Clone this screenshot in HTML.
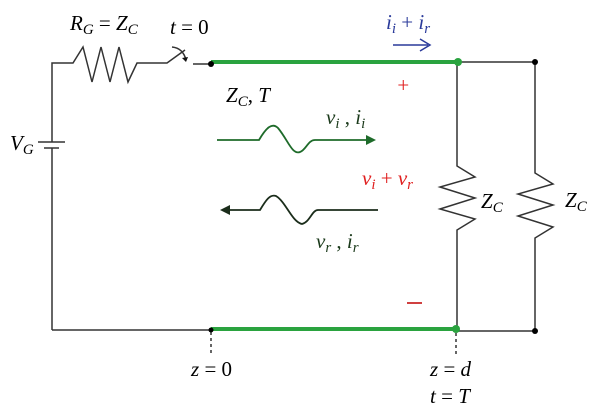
<!DOCTYPE html>
<html><head><style>body{margin:0;background:#fff}svg{display:block}text{font-family:"Liberation Serif",serif;font-style:italic;font-size:21px}</style></head><body>
<svg width="600" height="418" viewBox="0 0 600 418" xmlns="http://www.w3.org/2000/svg">
<g stroke="#333" stroke-width="1.5" fill="none">
<polyline points="52,142 52,63 73,63 83,47 92,82 101,47 110,82 119,47 128,82 137,63 167,63 185,50"/>
<path d="M172,47 Q183,48 186,60"/>
<line x1="193" y1="64" x2="211" y2="64"/>
<line x1="52" y1="148" x2="52" y2="330"/>
<line x1="38" y1="142" x2="65" y2="142"/>
<line x1="44" y1="148" x2="59" y2="148"/>
<line x1="52" y1="330" x2="211" y2="330"/>
<line x1="458" y1="62" x2="535" y2="62"/>
<line x1="456" y1="331" x2="535" y2="331"/>
<polyline points="457,62 457,166 475,177 440,187 475,198 440,209 475,219 457,230 457,331"/>
<polyline points="535,62 535,173 553,184 518,194 553,205 518,216 553,227 535,238 535,331"/>
<line x1="211" y1="332" x2="211" y2="353" stroke-dasharray="3,3"/>
<line x1="456" y1="333" x2="456" y2="357" stroke-dasharray="3,3"/>
</g>
<path d="M182,58 l4,4 l2,-5z" fill="#111"/>
<line x1="211" y1="62" x2="458" y2="62" stroke="#2aa33f" stroke-width="4"/>
<line x1="211" y1="329" x2="456" y2="329" stroke="#2aa33f" stroke-width="4"/>
<circle cx="458" cy="62" r="4" fill="#2aa33f"/>
<circle cx="456" cy="329" r="4" fill="#2aa33f"/>
<circle cx="211" cy="64" r="3" fill="#000"/>
<circle cx="211" cy="330" r="2.5" fill="#000"/>
<circle cx="535" cy="62" r="3" fill="#000"/>
<circle cx="535" cy="331" r="3" fill="#000"/>
<path d="M217,140 H259 C266,128 272,122 278,128 C288,140 292,155 300,152 C306,150 308,140 315,140 H368" stroke="#1e6b2a" stroke-width="1.8" fill="none"/>
<path d="M376,140 l-10,-5 v10z" fill="#1e6b2a"/>
<path d="M228,210 H260 C266,200 270,194 276,196 C286,202 292,222 302,224 C310,222 312,210 318,210 H378" stroke="#1b2d1b" stroke-width="1.8" fill="none"/>
<path d="M220,210 l10,-5 v10z" fill="#1b2d1b"/>
<line x1="393" y1="45" x2="428" y2="45" stroke="#2a3a9a" stroke-width="1.5"/>
<path d="M420,39 L430,45 L420,51" stroke="#2a3a9a" stroke-width="1.5" fill="none"/>
<text x="70" y="30">R<tspan font-size="15" dy="4">G</tspan><tspan dy="-4" font-style="normal"> = </tspan>Z<tspan font-size="15" dy="4">C</tspan></text>
<text x="170" y="34">t<tspan font-style="normal"> = 0</tspan></text>
<text x="10" y="150">V<tspan font-size="15" dy="4">G</tspan></text>
<text x="226" y="102">Z<tspan font-size="15" dy="4">C</tspan><tspan dy="-4" font-style="normal">, </tspan>T</text>
<text x="386" y="29" fill="#2a3a9a">i<tspan font-size="15" dy="4">i</tspan><tspan dy="-4" font-style="normal"> + </tspan>i<tspan font-size="15" dy="4">r</tspan></text>
<text x="396" y="92" fill="#e02020" font-style="normal" font-size="16">+</text>
<line x1="407" y1="303" x2="422" y2="303" stroke="#c00000" stroke-width="1.5"/>
<text x="326" y="124" fill="#1b3a1b">v<tspan font-size="15" dy="4">i</tspan><tspan dy="-4" font-style="normal"> , </tspan>i<tspan font-size="15" dy="4">i</tspan></text>
<text x="362" y="185" fill="#e02020">v<tspan font-size="15" dy="4">i</tspan><tspan dy="-4" font-style="normal"> + </tspan>v<tspan font-size="15" dy="4">r</tspan></text>
<text x="316" y="248" fill="#1b3a1b">v<tspan font-size="15" dy="4">r</tspan><tspan dy="-4" font-style="normal"> , </tspan>i<tspan font-size="15" dy="4">r</tspan></text>
<text x="481" y="208">Z<tspan font-size="15" dy="4">C</tspan></text>
<text x="565" y="207">Z<tspan font-size="15" dy="4">C</tspan></text>
<text x="191" y="376">z<tspan font-style="normal"> = 0</tspan></text>
<text x="430" y="376">z<tspan font-style="normal"> = </tspan>d</text>
<text x="430" y="403">t<tspan font-style="normal"> = </tspan>T</text>
</svg>
</body></html>
